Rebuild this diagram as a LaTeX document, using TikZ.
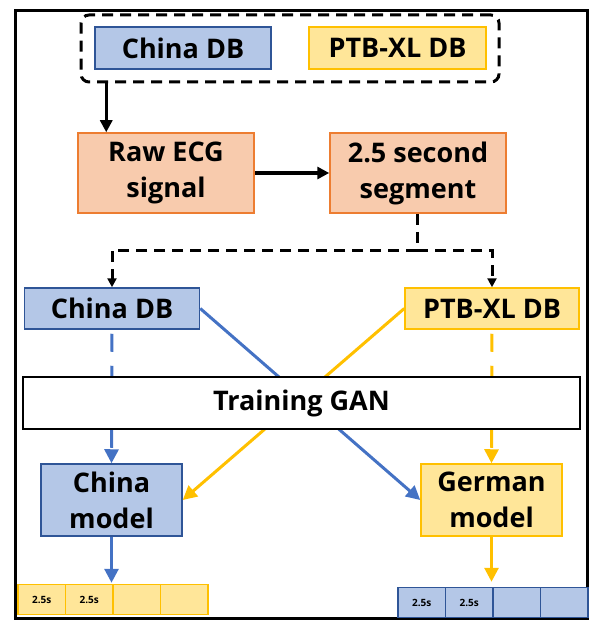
\documentclass[tikz,border=0pt]{standalone}
\usepackage{fontspec}
\setmainfont{Open Sans}
\usetikzlibrary{arrows.meta}
\definecolor{dbblue}{HTML}{B4C7E7}
\definecolor{dbblueline}{HTML}{2F5597}
\definecolor{flowblue}{HTML}{4472C4}
\definecolor{dbgold}{HTML}{FFE699}
\definecolor{flowgold}{HTML}{FFC000}
\definecolor{prepfill}{HTML}{F8CBAD}
\definecolor{prepline}{HTML}{ED7D31}

\begin{document}
\begin{tikzpicture}[x=1pt, y=-1pt,
  box/.style={draw, line width=1.5pt, inner sep=0pt, align=center,
    font=\fontsize{27}{36}\selectfont\bfseries},
  bluebox/.style={box, draw=dbblueline, fill=dbblue},
  goldbox/.style={box, draw=flowgold, fill=dbgold},
  prepbox/.style={box, draw=prepline, fill=prepfill,
    minimum width=176pt, minimum height=80pt},
  cell/.style={draw, line width=1.5pt, minimum width=47.5pt, minimum height=30pt,
    inner sep=0pt, font=\fontsize{10}{12}\selectfont\bfseries},
  ycell/.style={cell, draw=flowgold, fill=dbgold},
  bcell/.style={cell, draw=dbblueline, fill=dbblue},
  blk/.style={line width=3.5pt, -{Triangle[length=12pt,width=12pt]}},
  blkdash/.style={line width=3pt, dash pattern=on 11pt off 7pt},
  bflow/.style={flowblue, line width=3pt, -{Triangle[length=14pt,width=14pt]}},
  gflow/.style={flowgold, line width=3pt, -{Triangle[length=14pt,width=14pt]}},
  flowdash/.style={dash pattern=on 18pt off 14pt, dash phase=28pt},
]
  \useasboundingbox (0,0) rectangle (589,620);
  \draw[line width=3pt] (15,11) rectangle (587,618);

  % Source databases
  \node[box, draw, dash pattern=on 11pt off 7pt, line width=3pt, rounded corners=8pt,
    minimum width=418pt, minimum height=67pt] (src) at (290,48.5) {};
  \node[bluebox, minimum width=176pt, minimum height=42pt] (chinaTop) at (183,48) {China DB};
  \node[goldbox, minimum width=177pt, minimum height=42pt] (ptbTop) at (397.5,48) {PTB-XL DB};

  % Preprocessing
  \node[prepbox] (raw) at (166,173) {Raw ECG\\signal};
  \node[prepbox] (seg) at (418,173) {2.5 second\\segment};
  \draw[blk] ([xshift=29pt]raw.north west |- src.south) -- ([xshift=29pt]raw.north west);
  \draw[blk] (raw.east) -- (seg.west);

  % Split into the two sets
  \node[bluebox, minimum width=175pt, minimum height=41pt] (chinaDB) at (112,308.5) {China DB};
  \node[goldbox, minimum width=174pt, minimum height=41pt] (ptbDB) at (492,308.5) {PTB-XL DB};
  \coordinate (split) at (417,250);
  \draw[blkdash] (seg.south -| split) -- (split);
  \draw[blkdash, -{Triangle[length=9pt,width=9pt]}] (split) -| (chinaDB.north);
  \draw[blkdash, -{Triangle[length=9pt,width=9pt]}] (split) -| (ptbDB.north);

  % Models
  \node[bluebox, minimum width=141pt, minimum height=72pt] (chinaModel) at (111.5,500) {China\\model};
  \node[goldbox, minimum width=141pt, minimum height=72pt] (germanModel) at (491.5,500) {German\\model};

  \draw[bflow, flowdash] (chinaDB.south) -- (chinaModel.north);
  \draw[gflow, flowdash] (ptbDB.south) -- (germanModel.north);
  \draw[bflow] (chinaDB.east) -- (germanModel.west);
  \draw[gflow] (ptbDB.west) -- (chinaModel.east);

  \node[box, fill=white, line width=2pt, minimum width=557pt, minimum height=52pt] (gan) at (301.5,403) {Training GAN};

  % Generated segments
  \foreach \i/\t in {0/2.5s,1/2.5s,2/,3/}
    \node[ycell] (yc\i) at (41.75+47.5*\i,599.5) {\t};
  \foreach \i/\t in {0/2.5s,1/2.5s,2/,3/}
    \node[bcell] (bc\i) at (421.75+47.5*\i,602.5) {\t};
  \draw[bflow, shorten >=1pt] (chinaModel.south) -- (chinaModel.south |- yc2.north);
  \draw[gflow, shorten >=5pt] (germanModel.south) -- (germanModel.south |- bc1.north);
\end{tikzpicture}
\end{document}
